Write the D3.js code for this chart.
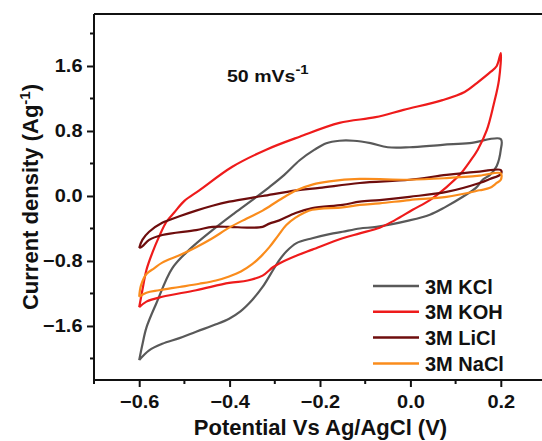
<!DOCTYPE html>
<html>
<head>
<meta charset="utf-8">
<script src="https://cdn.jsdelivr.net/npm/d3@7"></script>
<style>
  html, body { margin: 0; padding: 0; background: #fff; }
  svg { display: block; }
  text { font-family: "Liberation Sans", Arial, sans-serif; font-weight: bold; fill: #111; }
</style>
</head>
<body>
<svg id="chart" width="542" height="441"></svg>
<script>
// Cyclic voltammograms at 50 mV/s in four 3 M electrolytes.
// Each series: anodic sweep from -0.6 V to 0.2 V, then cathodic sweep back.
// Points are [potential (V), current density (A/g)].
const seriesNames = ["3M KCl", "3M KOH", "3M LiCl", "3M NaCl"];
const seriesColors = ["#595959", "#ee1b1b", "#6e0d0d", "#fa8c1c"];

const kclCV = [
  [-0.600, -2.02], [-0.593, -1.83], [-0.584, -1.62], [-0.562, -1.32], [-0.527, -0.89],
  [-0.489, -0.66], [-0.438, -0.42], [-0.389, -0.21], [-0.350, -0.05], [-0.312, 0.11],
  [-0.279, 0.26], [-0.245, 0.44], [-0.212, 0.57], [-0.186, 0.65], [-0.157, 0.68],
  [-0.126, 0.68], [-0.088, 0.65], [-0.050, 0.60], [-0.002, 0.60], [0.071, 0.63],
  [0.131, 0.65], [0.200, 0.70],
  [0.200, 0.57], [0.191, 0.37], [0.176, 0.26], [0.160, 0.20], [0.145, 0.10],
  [0.116, -0.01], [0.076, -0.14], [0.043, -0.23], [-0.002, -0.30], [-0.075, -0.38],
  [-0.112, -0.40], [-0.150, -0.44], [-0.179, -0.47], [-0.217, -0.52], [-0.252, -0.58],
  [-0.274, -0.68], [-0.290, -0.79], [-0.308, -0.95], [-0.327, -1.12], [-0.350, -1.28],
  [-0.376, -1.42], [-0.401, -1.51], [-0.430, -1.58], [-0.474, -1.67], [-0.511, -1.75],
  [-0.549, -1.82], [-0.578, -1.90], [-0.600, -2.02]
];

const kohCV = [
  [-0.600, -1.37], [-0.593, -1.16], [-0.584, -0.91], [-0.571, -0.70], [-0.556, -0.50],
  [-0.540, -0.32], [-0.522, -0.20], [-0.500, -0.06], [-0.467, 0.07], [-0.394, 0.36],
  [-0.319, 0.57], [-0.245, 0.73], [-0.157, 0.90], [-0.077, 0.97], [-0.015, 1.06],
  [0.071, 1.18], [0.120, 1.28], [0.147, 1.39], [0.178, 1.53], [0.191, 1.60], [0.200, 1.76],
  [0.196, 1.43], [0.184, 1.12], [0.169, 0.81], [0.149, 0.57], [0.131, 0.42],
  [0.109, 0.26], [0.080, 0.11], [0.043, -0.05], [0.005, -0.17], [-0.035, -0.30],
  [-0.068, -0.39], [-0.112, -0.46], [-0.150, -0.52], [-0.217, -0.66], [-0.250, -0.73],
  [-0.290, -0.83], [-0.305, -0.88], [-0.327, -0.98], [-0.360, -1.04], [-0.401, -1.07],
  [-0.474, -1.16], [-0.549, -1.24], [-0.584, -1.30], [-0.600, -1.37]
];

const liclCV = [
  [-0.600, -0.64], [-0.593, -0.54], [-0.578, -0.44], [-0.549, -0.33], [-0.511, -0.25],
  [-0.474, -0.18], [-0.438, -0.12], [-0.401, -0.07], [-0.327, 0.00], [-0.252, 0.07],
  [-0.201, 0.10], [-0.112, 0.16], [-0.002, 0.20], [0.080, 0.26], [0.153, 0.30], [0.200, 0.32],
  [0.200, 0.27], [0.176, 0.21], [0.153, 0.16], [0.080, 0.05], [-0.002, -0.01],
  [-0.068, -0.05], [-0.112, -0.07], [-0.150, -0.11], [-0.217, -0.15], [-0.254, -0.21],
  [-0.290, -0.30], [-0.312, -0.34], [-0.327, -0.38], [-0.356, -0.39], [-0.401, -0.38],
  [-0.438, -0.38], [-0.474, -0.42], [-0.549, -0.48], [-0.578, -0.54], [-0.593, -0.62],
  [-0.600, -0.64]
];

const naclCV = [
  [-0.600, -1.24], [-0.596, -1.10], [-0.584, -0.96], [-0.567, -0.89], [-0.549, -0.82],
  [-0.511, -0.73], [-0.474, -0.63], [-0.438, -0.52], [-0.401, -0.39], [-0.363, -0.28],
  [-0.327, -0.18], [-0.290, -0.05], [-0.252, 0.07], [-0.217, 0.14], [-0.179, 0.18],
  [-0.112, 0.21], [-0.002, 0.20], [0.080, 0.22], [0.153, 0.25], [0.200, 0.28],
  [0.200, 0.20], [0.191, 0.16], [0.176, 0.10], [0.153, 0.07], [0.080, -0.01],
  [-0.002, -0.05], [-0.068, -0.09], [-0.112, -0.11], [-0.150, -0.14], [-0.217, -0.17],
  [-0.236, -0.21], [-0.255, -0.27], [-0.275, -0.36], [-0.293, -0.49], [-0.312, -0.63],
  [-0.330, -0.74], [-0.350, -0.84], [-0.375, -0.93], [-0.401, -0.99], [-0.430, -1.04],
  [-0.467, -1.08], [-0.511, -1.12], [-0.556, -1.16], [-0.584, -1.19], [-0.600, -1.24]
];

const seriesData = [kclCV, kohCV, liclCV, naclCV];

const xMajorTicks = [-0.6, -0.4, -0.2, 0.0, 0.2];
const xMinorTicks = [-0.7, -0.5, -0.3, -0.1, 0.1];
const yMajorTicks = [-1.6, -0.8, 0.0, 0.8, 1.6];
const yMinorTicks = [-2.0, -1.2, -0.4, 0.4, 1.2, 2.0];

const svg = d3.select("#chart");
const plotLeft = 94, plotTop = 14, plotBottom = 380, plotRight = 546;

const x = d3.scaleLinear().domain([-0.7, 0.3]).range([plotLeft, plotRight]);
const y = d3.scaleLinear().domain([-2.265, 2.24]).range([plotBottom, plotTop]);

const fmt = d => d3.format(".1f")(d).replace("-", "\u2212");

// Curves
const line = d3.line()
  .x(d => x(d[0]))
  .y(d => y(d[1]))
  .curve(d3.curveCatmullRom.alpha(0.5));

svg.append("g")
  .selectAll("path")
  .data(seriesData)
  .join("path")
  .attr("d", d => line(d))
  .attr("fill", "none")
  .attr("stroke", (d, i) => seriesColors[i])
  .attr("stroke-width", 2.2)
  .attr("stroke-linejoin", "round");

// Frame (top edge; right edge falls outside the canvas)
svg.append("line")
  .attr("x1", plotLeft).attr("x2", plotRight)
  .attr("y1", plotTop).attr("y2", plotTop)
  .attr("stroke", "#111").attr("stroke-width", 2);

// Axes
const xAxis = svg.append("g")
  .attr("transform", `translate(0,${plotBottom})`)
  .call(d3.axisBottom(x).tickValues(xMajorTicks).tickFormat(fmt).tickSize(7).tickPadding(8));
xAxis.append("g")
  .selectAll("line")
  .data(xMinorTicks)
  .join("line")
  .attr("x1", d => x(d)).attr("x2", d => x(d))
  .attr("y1", 0).attr("y2", 4)
  .attr("stroke", "#111").attr("stroke-width", 2);

const yAxis = svg.append("g")
  .attr("transform", `translate(${plotLeft},0)`)
  .call(d3.axisLeft(y).tickValues(yMajorTicks).tickFormat(fmt).tickSize(7).tickPadding(4.5));
yAxis.append("g")
  .selectAll("line")
  .data(yMinorTicks)
  .join("line")
  .attr("y1", d => y(d)).attr("y2", d => y(d))
  .attr("x1", 0).attr("x2", -4)
  .attr("stroke", "#111").attr("stroke-width", 2);

[xAxis, yAxis].forEach(g => {
  g.select(".domain").attr("stroke", "#111").attr("stroke-width", 2);
  g.selectAll(".tick line").attr("stroke", "#111").attr("stroke-width", 2);
  g.selectAll(".tick text")
    .attr("font-family", "Liberation Sans, Arial, sans-serif")
    .attr("font-weight", "bold")
    .attr("font-size", 18.5)
    .attr("fill", "#111");
});
// slightly wide tick numerals
xAxis.selectAll(".tick text").attr("transform", "scale(1.08,1)");
yAxis.selectAll(".tick text").each(function () {
  const t = d3.select(this);
  const ox = +t.attr("x");
  t.attr("x", 0).attr("transform", `translate(${ox},0) scale(1.08,1)`);
});
xAxis.select(".domain").attr("d", `M${plotLeft},0H${plotRight}`);
yAxis.select(".domain").attr("d", `M0,${plotBottom}V${plotTop}`);

// Axis titles
svg.append("text")
  .attr("x", 320.5).attr("y", 434.5)
  .attr("text-anchor", "middle")
  .attr("font-size", 22)
  .text("Potential Vs Ag/AgCl (V)");

const yTitle = svg.append("text")
  .attr("transform", "translate(38,197) rotate(-90)")
  .attr("text-anchor", "middle")
  .attr("font-size", 22);
yTitle.append("tspan").text("Current density (Ag");
yTitle.append("tspan").attr("dy", -8).attr("font-size", 15).text("-1");
yTitle.append("tspan").attr("dy", 8).text(")");

// Scan-rate annotation
const note = svg.append("text")
  .attr("transform", "translate(227,82) scale(1.15,1)")
  .attr("font-size", 17);
note.append("tspan").text("50 mVs");
note.append("tspan").attr("dy", -8).attr("font-size", 13).text("-1");

// Legend
const legend = svg.append("g");
const legendRows = legend.selectAll("g")
  .data(seriesNames)
  .join("g")
  .attr("transform", (d, i) => `translate(373,${286 + i * 25.8})`);
legendRows.append("line")
  .attr("x1", 0).attr("x2", 46)
  .attr("stroke", (d, i) => seriesColors[i])
  .attr("stroke-width", 2.5);
legendRows.append("text")
  .attr("x", 52).attr("y", 7.5)
  .attr("font-size", 20)
  .text(d => d);
</script>
</body>
</html>
